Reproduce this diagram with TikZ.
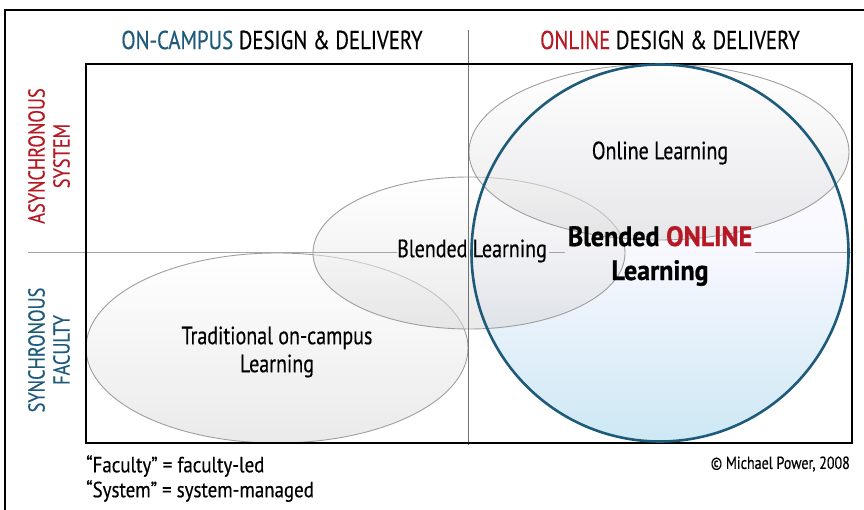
\documentclass[tikz,border=0pt]{standalone}
\usepackage{fontspec}
\setmainfont[FakeStretch=0.8,FakeBold=0.4]{PT Sans}
\newfontfamily\boldf[FakeStretch=0.93,FakeBold=0.8]{PT Sans Bold}
\newfontfamily\notef[FakeStretch=0.86,FakeBold=0.4]{PT Sans}
\definecolor{blu}{HTML}{1E5B7A}
\definecolor{rd}{HTML}{B51A24}
\definecolor{lblue}{HTML}{CDE8F4}
\tikzset{
  oval/.style={draw=black!38, line width=0.9pt, top color=white, bottom color=black!15, fill opacity=0.55},
  lbl/.style={font=\fontsize{25}{28}\selectfont, align=center, inner sep=0pt},
  hdr/.style={font=\fontsize{26}{30}\selectfont, inner sep=0pt},
  side/.style={font=\fontsize{23}{25}\selectfont, align=center, rotate=90, inner sep=0pt},
  note/.style={font=\fontsize{22}{24}\notef, inner sep=0pt, anchor=west},
  axis/.style={black!35, line width=1pt},
}
\begin{document}
\begin{tikzpicture}[x=1pt,y=-1pt]
\useasboundingbox (0,0) rectangle (864,510);
% outer frame
\draw[line width=1.5pt] (5,512) -- (5,10) -- (866,10);
% big circle fill
\fill[top color=white, bottom color=lblue, middle color=blue!3!white] (660,253) circle [radius=188.5];
% ellipses
\draw[oval] (277,348) ellipse [x radius=191, y radius=95];
\draw[oval] (469,253) ellipse [x radius=156, y radius=76];
\draw[oval] (659,152) ellipse [x radius=190, y radius=88];
% labels
\node[lbl] (trad) at (277,352) {Traditional on-campus\\Learning};
\node[lbl] (blend) at (472,251) {Blended Learning};
\node[lbl] (onl) at (660,153) {Online Learning};
\node[lbl, font=\fontsize{28}{34}\boldf] (bol) at (660,256) {Blended \textcolor{rd}{ONLINE}\\Learning};
% axes
\coordinate (ht) at (468,30);
\coordinate (hb) at (468,445);
\coordinate (vl) at (28,253);
\coordinate (vr) at (853,253);
\draw[black!55, line width=0.8pt] (ht) -- (hb);
\draw[axis] (vl) -- (blend.west |- vl);
\draw[axis] ([xshift=2pt]blend.east |- vl) -- ([xshift=-3pt]bol.west |- vl);
\draw[axis] ([xshift=3pt]bol.east |- vl) -- (vr);
% main box
\draw[line width=2pt] (86,64) rectangle (852,443);
% big circle outline
\draw[blu, line width=2.6pt] (660,253) circle [radius=188.5];
% headers
\node[hdr] (h1) at (272,40) {\textcolor{blu}{ON-CAMPUS} DESIGN \& DELIVERY};
\node[hdr] (h2) at (670,40) {\textcolor{rd}{ONLINE} DESIGN \& DELIVERY};
% side labels
\node[side, text=rd] (s1) at (49,156) {ASYNCHRONOUS\\SYSTEM};
\node[side, text=blu] (s2) at (49,350) {SYNCHRONOUS\\FACULTY};
% notes
\node[note] (n1) at (86,466) {“Faculty” = faculty-led};
\node[note] (n2) at (86,491) {“System” = system-managed};
\node[note, anchor=east, font=\fontsize{17.5}{20}\selectfont] (cp) at (850,464) {© Michael Power, 2008};
\end{tikzpicture}
\end{document}
